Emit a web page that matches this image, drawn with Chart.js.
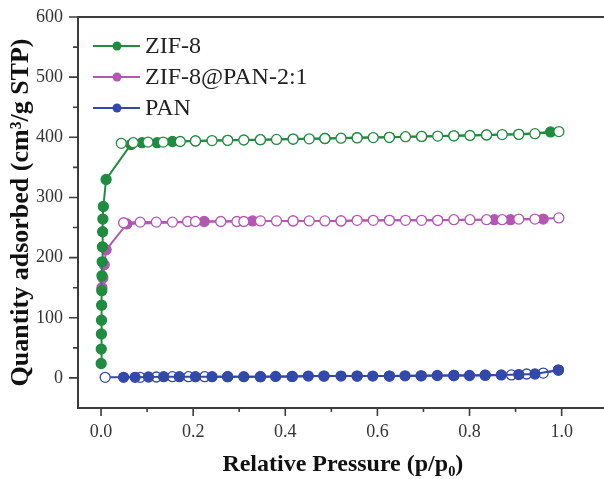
<!DOCTYPE html>
<html>
<head>
<meta charset="utf-8">
<script src="https://cdn.jsdelivr.net/npm/chart.js@4/dist/chart.umd.min.js"></script>
<style>
  html, body { margin: 0; padding: 0; background: #fff; overflow: hidden; }
  #wrap { width: 614px; height: 479px; }
</style>
</head>
<body>
<div id="wrap"><canvas id="my-canvas" width="614" height="479"></canvas></div>
<script>
// ZIF-8 adsorption (filled) and desorption (open)
const zifAdsP = [0.0003, 0.0005, 0.0008, 0.001, 0.0013, 0.0016, 0.002, 0.0025, 0.003, 0.0035, 0.004, 0.005, 0.011, 0.065, 0.089, 0.122, 0.155, 0.205, 0.275, 0.346, 0.417, 0.486, 0.556, 0.626, 0.696, 0.766, 0.837, 0.907, 0.976];
const zifAdsQ = [24, 48, 73, 96, 121, 145, 170, 193, 218, 243, 264, 285, 330, 388, 391, 391, 393, 394, 395, 396, 397, 398, 399.5, 400, 401.5, 402.5, 404, 405, 409];
const zifDesP = [0.044, 0.070, 0.102, 0.135, 0.172, 0.205, 0.241, 0.275, 0.310, 0.346, 0.381, 0.417, 0.452, 0.486, 0.521, 0.556, 0.591, 0.626, 0.661, 0.696, 0.731, 0.766, 0.801, 0.837, 0.871, 0.907, 0.942, 0.994];
const zifDesQ = [390, 391, 392, 392, 393, 394, 394.5, 395, 395.5, 396, 396.5, 397, 397.5, 398, 398.5, 399, 399.5, 400, 401, 401.5, 402, 402.5, 403, 404, 404.5, 405, 406, 409.5];

// ZIF-8@PAN-2:1
const mixAdsP = [0.002, 0.004, 0.007, 0.011, 0.056, 0.224, 0.329, 0.417, 0.521, 0.626, 0.731, 0.854, 0.889, 0.960];
const mixAdsQ = [150, 166, 188, 213, 256, 260, 261, 261, 261, 262, 262, 263, 263, 264];
const mixDesP = [0.049, 0.085, 0.120, 0.155, 0.188, 0.205, 0.260, 0.295, 0.310, 0.346, 0.381, 0.417, 0.452, 0.486, 0.521, 0.556, 0.591, 0.626, 0.661, 0.696, 0.731, 0.766, 0.801, 0.837, 0.871, 0.907, 0.942, 0.994];
const mixDesQ = [258, 259, 259, 259, 260, 260, 260, 260, 260, 261, 261, 261, 261, 261, 261, 262, 262, 262, 262, 262, 262, 263, 263, 263, 263, 264, 264, 266];

// PAN
const panAdsP = [0.049, 0.074, 0.103, 0.136, 0.170, 0.205, 0.241, 0.275, 0.310, 0.346, 0.379, 0.415, 0.450, 0.484, 0.521, 0.556, 0.590, 0.626, 0.660, 0.695, 0.730, 0.766, 0.800, 0.834, 0.869, 0.907, 0.942, 0.993];
const panAdsQ = [1, 1, 1.5, 2, 2, 2, 2, 2, 2, 2, 2.5, 2.5, 3, 3, 3, 3, 3, 3, 3.5, 3.5, 4, 4, 4, 4.5, 5, 5.5, 6.5, 13];
const panDesP = [0.009, 0.085, 0.120, 0.155, 0.190, 0.225, 0.275, 0.346, 0.415, 0.484, 0.556, 0.626, 0.695, 0.766, 0.834, 0.891, 0.924, 0.960, 0.993];
const panDesQ = [1, 1, 1.5, 2, 2, 2, 2, 2, 2.5, 3, 3, 3, 3.5, 4, 4.5, 5, 6.5, 8, 13];

const seriesNames = ['ZIF-8', 'ZIF-8@PAN-2:1', 'PAN'];
const seriesColors = ['#1f8c3f', '#b457b4', '#3349aa'];

const xTicks = [0, 0.1, 0.2, 0.3, 0.4, 0.5, 0.6, 0.7, 0.8, 0.9, 1.0];
const yTicks = [0, 50, 100, 150, 200, 250, 300, 350, 400, 450, 500, 550, 600];

function pts(ps, qs) { return ps.map((p, i) => ({ x: p, y: qs[i] })); }

function ds(label, ps, qs, color, open, order) {
  return {
    label: label,
    data: pts(ps, qs),
    showLine: true,
    borderColor: color,
    borderWidth: 2,
    pointRadius: 5,
    pointBorderWidth: 1.3,
    pointBorderColor: color,
    pointBackgroundColor: open ? '#ffffff' : color,
    order: order
  };
}

const frameAndTicks = {
  id: 'frameAndTicks',
  afterDraw(chart) {
    const { ctx, chartArea: a, scales: { x, y } } = chart;
    ctx.save();
    ctx.strokeStyle = '#3c3c3c';
    ctx.lineWidth = 2;
    ctx.strokeRect(a.left, a.top, a.right - a.left, a.bottom - a.top);
    ctx.lineWidth = 1.6;
    ctx.beginPath();
    x.ticks.forEach(t => {
      const px = x.getPixelForValue(t.value);
      const len = t.label ? 8 : 4;
      ctx.moveTo(px, a.bottom); ctx.lineTo(px, a.bottom + len);
    });
    y.ticks.forEach(t => {
      const py = y.getPixelForValue(t.value);
      const len = t.label ? 9 : 5;
      ctx.moveTo(a.left, py); ctx.lineTo(a.left - len, py);
    });
    ctx.stroke();
    ctx.restore();
  }
};

const innerLegend = {
  id: 'innerLegend',
  afterDraw(chart) {
    const { ctx, chartArea: a } = chart;
    ctx.save();
    ctx.font = '24px "Liberation Serif"';
    ctx.textBaseline = 'middle';
    seriesNames.forEach((name, i) => {
      const yy = a.top + 29 + i * 31;
      ctx.strokeStyle = seriesColors[i];
      ctx.lineWidth = 2;
      ctx.beginPath();
      ctx.moveTo(a.left + 15, yy); ctx.lineTo(a.left + 62, yy);
      ctx.stroke();
      ctx.fillStyle = seriesColors[i];
      ctx.beginPath();
      ctx.arc(a.left + 39, yy, 4.5, 0, Math.PI * 2);
      ctx.fill();
      ctx.fillStyle = '#222';
      ctx.fillText(name, a.left + 67, yy + 1);
    });
    ctx.restore();
  }
};

const ctx = document.getElementById('my-canvas').getContext('2d');
const chart = new Chart(ctx, {
  type: 'scatter',
  data: {
    datasets: [
      ds('ZIF-8 des', zifDesP, zifDesQ, seriesColors[0], true, 0),
      ds('ZIF-8', zifAdsP, zifAdsQ, seriesColors[0], false, 1),
      ds('ZIF-8@PAN-2:1 des', mixDesP, mixDesQ, seriesColors[1], true, 2),
      ds('ZIF-8@PAN-2:1', mixAdsP, mixAdsQ, seriesColors[1], false, 3),
      ds('PAN', panAdsP, panAdsQ, seriesColors[2], false, 4),
      ds('PAN des', panDesP, panDesQ, seriesColors[2], true, 5)
    ]
  },
  options: {
    responsive: false,
    animation: false,
    layout: { padding: { top: 17, right: 2, left: 0, bottom: 0 } },
    plugins: { legend: { display: false }, tooltip: { enabled: false } },
    scales: {
      x: {
        type: 'linear',
        min: -0.05,
        max: 1.1,
        afterBuildTicks: s => { s.ticks = xTicks.map(v => ({ value: v })); },
        afterFit: s => { s.height = 71; },
        grid: { display: true, drawOnChartArea: false, drawTicks: true, tickLength: 8, color: 'rgba(0,0,0,0)' },
        border: { display: false },
        ticks: {
          padding: 5,
          maxRotation: 0,
          autoSkip: false,
          color: '#333',
          font: { family: 'Liberation Serif', size: 18 },
          callback: v => (Math.round(v * 10) % 2 === 0 ? v.toFixed(1) : '')
        },
        title: {
          display: true,
          text: 'Relative Pressure (p/p\u2080)',
          color: '#111',
          font: { family: 'Liberation Serif', size: 24, weight: 'bold' },
          padding: { top: 0, bottom: 0 }
        }
      },
      y: {
        type: 'linear',
        min: -50,
        max: 600,
        afterBuildTicks: s => { s.ticks = yTicks.map(v => ({ value: v })); },
        afterFit: s => { s.width = 78; },
        grid: { display: true, drawOnChartArea: false, drawTicks: true, tickLength: 9, color: 'rgba(0,0,0,0)' },
        border: { display: false },
        ticks: {
          padding: 6,
          autoSkip: false,
          color: '#333',
          font: { family: 'Liberation Serif', size: 18 },
          callback: v => (v % 100 === 0 ? String(v) : '')
        },
        title: {
          display: true,
          text: 'Quantity adsorbed (cm\u00b3/g STP)',
          color: '#111',
          font: { family: 'Liberation Serif', size: 26, weight: 'bold' },
          padding: { top: 6, bottom: 0 }
        }
      }
    }
  },
  plugins: [frameAndTicks, innerLegend]
});
</script>
</body>
</html>
